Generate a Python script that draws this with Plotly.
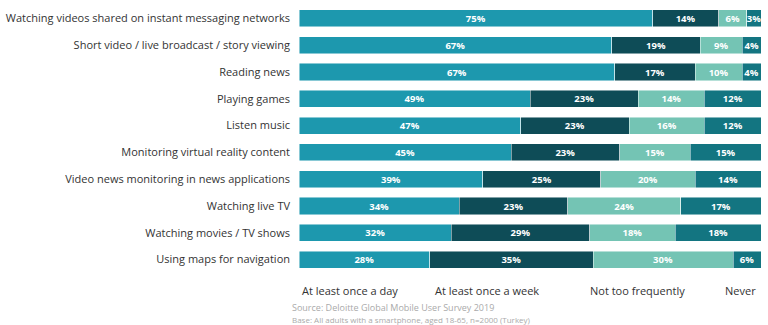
import plotly.graph_objects as go

categories = [
    "Watching videos shared on instant messaging networks",
    "Short video / live broadcast / story viewing",
    "Reading news",
    "Playing games",
    "Listen music",
    "Monitoring virtual reality content",
    "Video news monitoring in news applications",
    "Watching live TV",
    "Watching movies / TV shows",
    "Using maps for navigation",
]
series_names = ["At least once a day", "At least once a week", "Not too frequently", "Never"]
daily = [75, 67, 67, 49, 47, 45, 39, 34, 32, 28]
weekly = [14, 19, 17, 23, 23, 23, 25, 23, 29, 35]
rarely = [6, 9, 10, 14, 16, 15, 20, 24, 18, 30]
never = [3, 4, 4, 12, 12, 15, 14, 17, 18, 6]
colors = ["#1d98ae", "#0e4c57", "#74c4b4", "#137581"]
source_lines = ["Source: Deloitte Global Mobile User Survey 2019",
                "Base: All adults with a smartphone, aged 18-65, n=2000 (Turkey)"]

fig = go.Figure()
for name, vals, col in zip(series_names, [daily, weekly, rarely, never], colors):
    fig.add_trace(go.Bar(
        y=categories, x=vals, name=name, orientation="h",
        marker=dict(color=col, line=dict(color="rgba(255,255,255,0.6)", width=0.8)),
        text=[f"{v}%" for v in vals], textposition="inside", insidetextanchor="middle",
        constraintext="none", textangle=0,
        textfont=dict(color="white", size=9.5, family="Open Sans", weight="bold"),
        hoverinfo="skip",
    ))

fig.update_layout(
    barmode="stack", barnorm="percent", bargap=0.36,
    width=768, height=325,
    margin=dict(l=299, r=7, t=4.5, b=51.5),
    paper_bgcolor="white", plot_bgcolor="white",
    showlegend=False,
    font=dict(family="Open Sans", color="#333333"),
    xaxis=dict(visible=False, range=[0, 100], fixedrange=True),
    yaxis=dict(autorange="reversed", showgrid=False, showline=False, zeroline=False,
               ticks="", ticklabelstandoff=8,
               tickfont=dict(size=11, color="#333333", family="Open Sans")),
)

legend_x = [0.003, 0.29, 0.625, 0.918]
for name, lx in zip(series_names, legend_x):
    fig.add_annotation(text=name, xref="paper", yref="paper", x=lx, y=-0.065,
                       xanchor="left", yanchor="middle", showarrow=False,
                       font=dict(size=11, color="#333333", family="Open Sans"))

fig.add_annotation(text=source_lines[0], xref="paper", yref="paper", x=-0.02, y=-0.128,
                   xanchor="left", yanchor="middle", showarrow=False,
                   font=dict(size=9, color="#aaaaaa", family="Open Sans"))
fig.add_annotation(text=source_lines[1], xref="paper", yref="paper", x=-0.02, y=-0.172,
                   xanchor="left", yanchor="middle", showarrow=False,
                   font=dict(size=8, color="#aaaaaa", family="Open Sans"))

fig.write_html("out.html")
